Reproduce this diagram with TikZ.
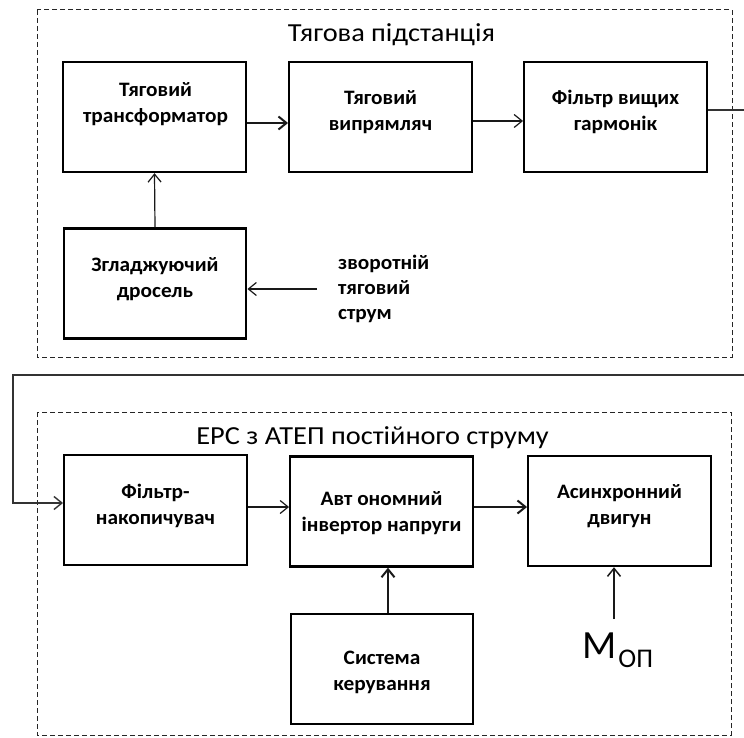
\documentclass[tikz,border=0pt]{standalone}
\usepackage{fontspec}
\setmainfont{Carlito}[FakeStretch=1.04]
\newfontfamily\ttlfont{Carlito}[FakeStretch=1.09]
\newfontfamily\mfont{Carlito}
\usetikzlibrary{arrows.meta,calc}
\begin{document}
\begin{tikzpicture}[x=1pt,y=-1pt,
 box/.style={draw=black, line width=2.4pt, minimum width=182.5pt, minimum height=110pt, inner sep=0pt},
 btxt/.style={font=\fontsize{20.5}{26}\selectfont\bfseries, align=center, inner sep=0pt, anchor=base},
 ttl/.style={font=\ttlfont\fontsize{26}{30}\selectfont, inner sep=0pt, anchor=base},
 frame/.style={draw=black!85, line width=1pt, dash pattern=on 5pt off 3pt},
 arr/.style={-{Straight Barb[length=8pt,width=13pt]}, line width=1.2pt, draw=black!90},
 arrthick/.style={arr, line width=2pt}]
\useasboundingbox[fill=white] (0,0) rectangle (744,738);

% frames
\draw[frame] (37,10) rectangle (732,357);
\draw[frame] (37,412) rectangle (731,735);

% titles
\node[ttl] (t1) at (391.5,42) {Тягова підстанція};
\node[ttl] (t2) at (372.5,444) {ЕРС з АТЕП постійного струму};

% boxes
\node[box] (b1) at (154.5,117) {};
\node[box] (b2) at (380.5,117) {};
\node[box] (b3) at (615.5,117) {};
\node[box] (b4) at (155,283.5) {};
\node[box] (b5) at (155.5,510) {};
\node[box] (b6) at (381.5,511.5) {};
\node[box] (b7) at (619.5,511) {};
\node[box] (b8) at (382,669) {};

% box texts (anchored at the baseline of the last line)
\node[btxt] (x1) at (155.5,123) {Тяговий\\трансформатор};
\node[btxt] (x2) at (380.5,131) {Тяговий\\випрямляч};
\node[btxt] (x3) at (615.5,131) {Фільтр вищих\\гармонік};
\node[btxt] (x4) at (155,297) {Згладжуючий\\дросель};
\node[btxt] (x5) at (155.5,524) {Фільтр-\\накопичувач};
\node[btxt] (x6) at (381.5,531) {Авт ономний\\інвертор напруги};
\node[btxt] (x7) at (619.5,524) {Асинхронний\\двигун};
\node[btxt] (x8) at (382,690) {Система\\керування};

\node[btxt, font=\fontsize{20.5}{25}\selectfont\bfseries, align=left, anchor=base west] (rt) at (338,319) {зворотній\\тяговий\\струм};

\node[anchor=base west, inner sep=0pt] (mop) at (582,658)
  {\mfont\fontsize{40}{40}\selectfont M\kern2pt\raisebox{-9pt}{\fontsize{27}{27}\selectfont ОП}};

% connectors
\draw[arrthick] ($(b1.east)+(0,6)$) coordinate (a1) -- (a1 -| b2.west);
\draw[arr] ($(b2.east)+(0,4)$) coordinate (a2) -- (a2 -| b3.west);
\draw[arr] (b4.north) -- (b1.south);
\coordinate (r0) at (317,289);
\draw[arr] (r0) -- (r0 -| b4.east);

\coordinate (k1) at (760,375);
\coordinate (k2) at (13,503);
\draw[arr, line width=1.4pt, draw=black!80] ($(b3.east)+(0,-7)$) -| (k1) -- (k2 |- k1) -- (k2) -- (k2 -| b5.west);

\draw[arr] ($(b5.east)+(0,-3)$) coordinate (a5) -- (a5 -| b6.west);
\draw[arrthick] ($(b6.east)+(0,-4.5)$) coordinate (a6) -- (a6 -| b7.west);
\draw[arrthick] ($(b8.north)+(6,0)$) coordinate (a8) -- (a8 |- b6.south);
\coordinate (m0) at (614,619);
\draw[arr, line width=1.5pt] (m0) -- (m0 |- b7.south);
\end{tikzpicture}
\end{document}
